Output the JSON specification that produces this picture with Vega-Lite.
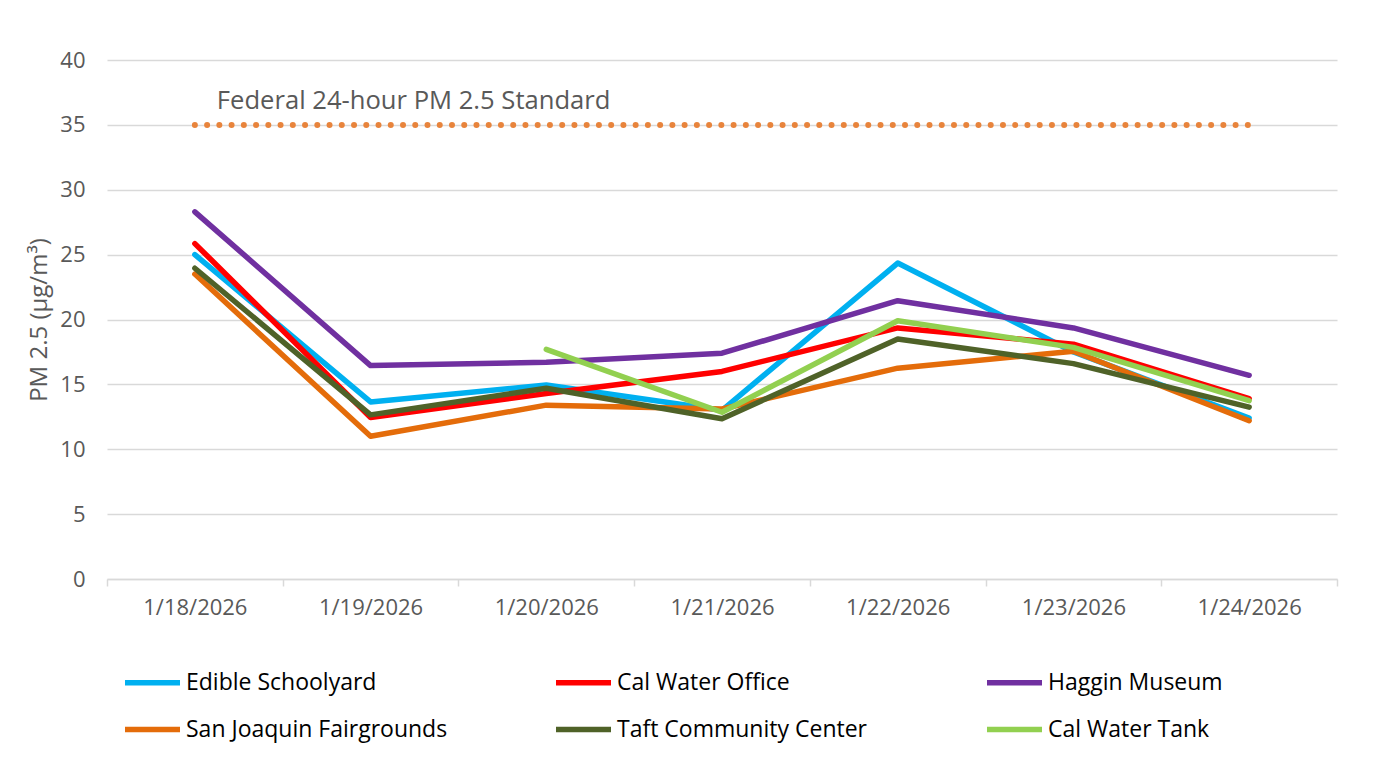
{
  "$schema": "https://vega.github.io/schema/vega-lite/v6.json",
  "width": 1230,
  "height": 519,
  "autosize": {"type": "none"},
  "padding": {"left": 107, "top": 60, "right": 59, "bottom": 183},
  "background": "white",
  "config": {
    "view": {"stroke": null},
    "font": "Open Sans"
  },
  "datasets": {
    "pm": [
      {"date": "1/18/2026", "site": "Edible Schoolyard", "pm25": 25.0},
      {"date": "1/19/2026", "site": "Edible Schoolyard", "pm25": 13.65},
      {"date": "1/20/2026", "site": "Edible Schoolyard", "pm25": 14.95},
      {"date": "1/21/2026", "site": "Edible Schoolyard", "pm25": 13.0},
      {"date": "1/22/2026", "site": "Edible Schoolyard", "pm25": 24.35},
      {"date": "1/23/2026", "site": "Edible Schoolyard", "pm25": 17.5},
      {"date": "1/24/2026", "site": "Edible Schoolyard", "pm25": 12.4},
      {"date": "1/18/2026", "site": "Cal Water Office", "pm25": 25.85},
      {"date": "1/19/2026", "site": "Cal Water Office", "pm25": 12.45},
      {"date": "1/20/2026", "site": "Cal Water Office", "pm25": 14.3},
      {"date": "1/21/2026", "site": "Cal Water Office", "pm25": 16.0},
      {"date": "1/22/2026", "site": "Cal Water Office", "pm25": 19.35},
      {"date": "1/23/2026", "site": "Cal Water Office", "pm25": 18.1},
      {"date": "1/24/2026", "site": "Cal Water Office", "pm25": 13.9},
      {"date": "1/18/2026", "site": "Haggin Museum", "pm25": 28.3},
      {"date": "1/19/2026", "site": "Haggin Museum", "pm25": 16.45},
      {"date": "1/20/2026", "site": "Haggin Museum", "pm25": 16.7},
      {"date": "1/21/2026", "site": "Haggin Museum", "pm25": 17.4},
      {"date": "1/22/2026", "site": "Haggin Museum", "pm25": 21.45},
      {"date": "1/23/2026", "site": "Haggin Museum", "pm25": 19.35},
      {"date": "1/24/2026", "site": "Haggin Museum", "pm25": 15.7},
      {"date": "1/18/2026", "site": "San Joaquin Fairgrounds", "pm25": 23.5},
      {"date": "1/19/2026", "site": "San Joaquin Fairgrounds", "pm25": 11.0},
      {"date": "1/20/2026", "site": "San Joaquin Fairgrounds", "pm25": 13.4},
      {"date": "1/21/2026", "site": "San Joaquin Fairgrounds", "pm25": 13.1},
      {"date": "1/22/2026", "site": "San Joaquin Fairgrounds", "pm25": 16.25},
      {"date": "1/23/2026", "site": "San Joaquin Fairgrounds", "pm25": 17.55},
      {"date": "1/24/2026", "site": "San Joaquin Fairgrounds", "pm25": 12.2},
      {"date": "1/18/2026", "site": "Taft Community Center", "pm25": 23.95},
      {"date": "1/19/2026", "site": "Taft Community Center", "pm25": 12.65},
      {"date": "1/20/2026", "site": "Taft Community Center", "pm25": 14.7},
      {"date": "1/21/2026", "site": "Taft Community Center", "pm25": 12.35},
      {"date": "1/22/2026", "site": "Taft Community Center", "pm25": 18.5},
      {"date": "1/23/2026", "site": "Taft Community Center", "pm25": 16.6},
      {"date": "1/24/2026", "site": "Taft Community Center", "pm25": 13.25},
      {"date": "1/20/2026", "site": "Cal Water Tank", "pm25": 17.7},
      {"date": "1/21/2026", "site": "Cal Water Tank", "pm25": 12.85},
      {"date": "1/22/2026", "site": "Cal Water Tank", "pm25": 19.9},
      {"date": "1/23/2026", "site": "Cal Water Tank", "pm25": 17.85},
      {"date": "1/24/2026", "site": "Cal Water Tank", "pm25": 13.75}
    ],
    "standard": [
      {"date": "1/18/2026", "pm25": 35, "label": "Federal 24-hour PM 2.5 Standard"},
      {"date": "1/24/2026", "pm25": 35, "label": ""}
    ]
  },
  "encoding": {
    "x": {
      "field": "date",
      "type": "nominal",
      "sort": ["1/18/2026", "1/19/2026", "1/20/2026", "1/21/2026", "1/22/2026", "1/23/2026", "1/24/2026"],
      "scale": {
        "type": "band",
        "domain": ["1/18/2026", "1/19/2026", "1/20/2026", "1/21/2026", "1/22/2026", "1/23/2026", "1/24/2026"],
        "paddingInner": 0,
        "paddingOuter": 0
      },
      "axis": {
        "title": null,
        "labelAngle": 0,
        "labelFontSize": 22,
        "labelColor": "#595959",
        "labelPadding": 11,
        "tickBand": "extent",
        "tickSize": 7,
        "tickColor": "#D9D9D9",
        "tickWidth": 1.5,
        "domainColor": "#D9D9D9",
        "domainWidth": 1.5,
        "grid": false
      }
    },
    "y": {
      "field": "pm25",
      "type": "quantitative",
      "scale": {"domain": [0, 40], "nice": false, "zero": true},
      "axis": {
        "title": "PM 2.5 (µg/m³)",
        "titleFontSize": 24,
        "titleFontWeight": "normal",
        "titleColor": "#595959",
        "titlePadding": 8,
        "values": [0, 5, 10, 15, 20, 25, 30, 35, 40],
        "labelFontSize": 22,
        "labelColor": "#595959",
        "labelPadding": 22,
        "ticks": false,
        "domain": false,
        "grid": true,
        "gridColor": "#D9D9D9",
        "gridWidth": 1.5
      }
    }
  },
  "layer": [
    {
      "data": {"name": "standard"},
      "mark": {
        "type": "line",
        "color": "#E8843C",
        "strokeWidth": 6,
        "strokeCap": "round",
        "strokeDash": [0.01, 12.234]
      },
      "encoding": {}
    },
    {
      "data": {"name": "standard"},
      "transform": [{"filter": "datum.label != ''"}],
      "mark": {
        "type": "text",
        "align": "left",
        "baseline": "alphabetic",
        "dx": 22,
        "dy": -16,
        "fontSize": 25.6,
        "color": "#595959"
      },
      "encoding": {"text": {"field": "label"}}
    },
    {
      "data": {"name": "pm"},
      "mark": {
        "type": "line",
        "strokeWidth": 5.5,
        "strokeCap": "round",
        "strokeJoin": "round"
      },
      "encoding": {
        "color": {
          "field": "site",
          "type": "nominal",
          "sort": ["Edible Schoolyard", "Cal Water Office", "Haggin Museum", "San Joaquin Fairgrounds", "Taft Community Center", "Cal Water Tank"],
          "scale": {
            "domain": ["Edible Schoolyard", "Cal Water Office", "Haggin Museum", "San Joaquin Fairgrounds", "Taft Community Center", "Cal Water Tank"],
            "range": ["#00B0F0", "#FF0000", "#7030A0", "#E46C0A", "#4F6228", "#92D050"]
          },
          "legend": {
            "title": null,
            "orient": "none",
            "legendX": 15,
            "legendY": 592,
            "columns": 3,
            "direction": "horizontal",
            "gridAlign": "all",
            "columnPadding": 97,
            "rowPadding": 4,
            "symbolType": "stroke",
            "symbolSize": 3025,
            "symbolStrokeWidth": 5.5,
            "labelOffset": 3,
            "labelFontSize": 23,
            "labelColor": "#000000",
            "labelLimit": 400
          }
        },
        "detail": {"field": "site"}
      }
    }
  ]
}
